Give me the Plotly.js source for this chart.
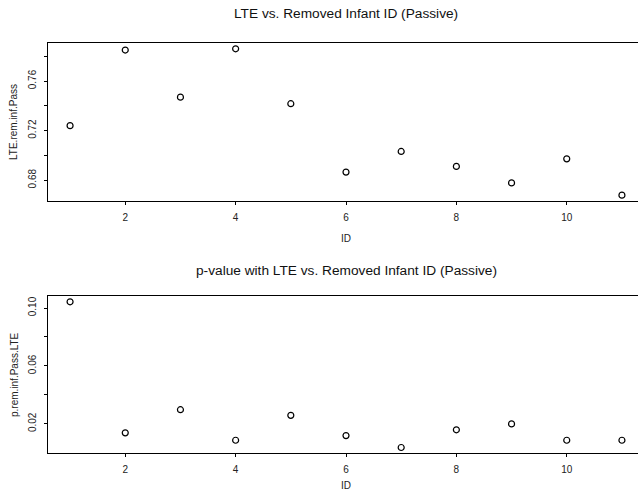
<!DOCTYPE html>
<html>
<head>
<meta charset="utf-8">
<script src="https://cdn.plot.ly/plotly-3.0.1.min.js"></script>
<style>
html,body{margin:0;padding:0;overflow:hidden;background:#fff;width:638px;height:492px;}
#chart{width:660px;height:492px;}
</style>
</head>
<body>
<div id="chart"></div>
<script>
const ids = [1,2,3,4,5,6,7,8,9,10,11];
const lteRemInfPass = [0.724,0.785,0.747,0.786,0.7417,0.6865,0.7032,0.6911,0.6778,0.6972,0.6679];
const pRemInfPassLTE = [0.1043,0.0138,0.0298,0.0087,0.0259,0.0119,0.0037,0.0159,0.0200,0.0087,0.0087];

const xTickVals = [2,4,6,8,10];
const y1TickVals = [0.68,0.70,0.72,0.74,0.76,0.78];
const y1TickText = ['0.68','','0.72','','0.76',''];
const y2TickVals = [0.02,0.04,0.06,0.08,0.10];
const y2TickText = ['0.02','','0.06','','0.10'];

const marker = {symbol:'circle-open', size:6, color:'#000', line:{width:1.2, color:'#000'}};
const FAM = 'Liberation Sans, Arial, sans-serif';
const tickFnt = {family:FAM, size:10, color:'#222'};
const labFnt = {family:FAM, size:10, color:'#222'};
const titleFnt = {family:FAM, size:13.7, color:'#111'};

const traces = [
  {x: ids, y: lteRemInfPass, type:'scatter', mode:'markers', marker: marker, xaxis:'x', yaxis:'y', hoverinfo:'none'},
  {x: ids, y: pRemInfPassLTE, type:'scatter', mode:'markers', marker: marker, xaxis:'x2', yaxis:'y2', hoverinfo:'none'}
];

function xa(anchor){
  return {anchor: anchor, range:[0.6,11.4], tickvals: xTickVals, ticks:'outside', ticklen:3, tickcolor:'#000',
    ticklabelstandoff:4,
    showline:true, mirror:true, linecolor:'#000', linewidth:1, showgrid:false, zeroline:false, tickfont: tickFnt};
}
function ya(anchor, dom, rng, tv, tt){
  return {anchor: anchor, domain: dom, range: rng, tickvals: tv, ticktext: tt, ticks:'outside', ticklen:3, tickcolor:'#000',
    ticklabelstandoff:4,
    tickangle:-90, showline:true, mirror:false, linecolor:'#000', linewidth:1, showgrid:false, zeroline:false, tickfont: tickFnt};
}

const layout = {
  width:660, height:492,
  margin:{l:48, r:16, t:0, b:0},
  paper_bgcolor:'#fff', plot_bgcolor:'#fff',
  showlegend:false,
  font: tickFnt,
  xaxis: xa('y'),
  yaxis: ya('x', [0.5915,0.9126], [0.6632,0.7907], y1TickVals, y1TickText),
  xaxis2: xa('y2'),
  yaxis2: ya('x2', [0.0787,0.3984], [-0.0003,0.1083], y2TickVals, y2TickText),
  annotations: [
    {text:'LTE vs. Removed Infant ID (Passive)', xref:'paper', yref:'paper', x:0.5, y:(492-14)/492, xanchor:'center', yanchor:'middle', showarrow:false, font: titleFnt},
    {text:'p-value with LTE vs. Removed Infant ID (Passive)', xref:'paper', yref:'paper', x:0.5, y:(492-270)/492, xanchor:'center', yanchor:'middle', showarrow:false, font: titleFnt},
    {text:'ID', xref:'paper', yref:'paper', x:0.5, y:(492-238)/492, xanchor:'center', yanchor:'middle', showarrow:false, font: labFnt},
    {text:'ID', xref:'paper', yref:'paper', x:0.5, y:(492-485)/492, xanchor:'center', yanchor:'middle', showarrow:false, font: labFnt},
    {text:'LTE.rem.inf.Pass', xref:'paper', yref:'paper', x:-34/596, y:(492-122)/492, xanchor:'center', yanchor:'middle', textangle:-90, showarrow:false, font: labFnt},
    {text:'p.rem.inf.Pass.LTE', xref:'paper', yref:'paper', x:-34/596, y:(492-375)/492, xanchor:'center', yanchor:'middle', textangle:-90, showarrow:false, font: labFnt}
  ]
};

Plotly.newPlot('chart', traces, layout, {staticPlot:true, displayModeBar:false});
</script>
</body>
</html>
